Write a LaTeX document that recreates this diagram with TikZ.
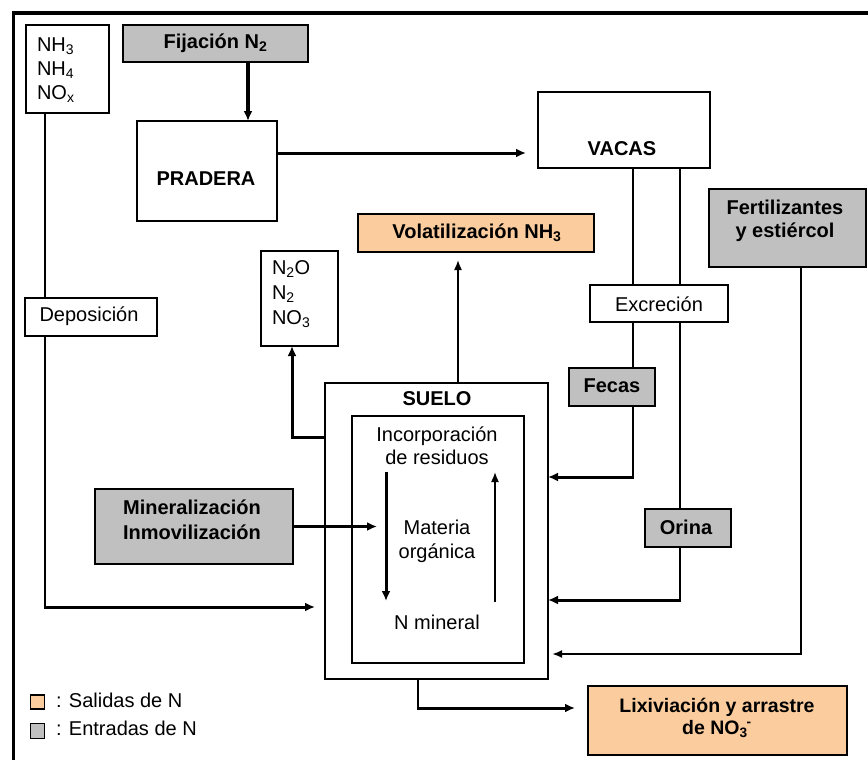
\documentclass[tikz,border=0pt]{standalone}
\usepackage{fontspec}
\setmainfont{Liberation Sans}
\usetikzlibrary{arrows.meta}
\definecolor{salida}{RGB}{251,204,158}
\definecolor{entrada}{RGB}{192,192,192}
\tikzset{
  box/.style={draw=black, line width=1.4pt, rectangle, inner sep=0pt, outer sep=0pt},
  inbox/.style={box, fill=entrada},
  outbox/.style={box, fill=salida},
  txt/.style={inner sep=0pt, outer sep=0pt, align=center, font=\fontsize{20}{24}\selectfont},
  btxt/.style={inner sep=0pt, outer sep=0pt, align=center, font=\fontsize{20}{25}\selectfont\bfseries},
  conn/.style={draw=black, line width=1.6pt},
  heavy/.style={draw=black, line width=3pt, -{Latex[length=10pt,width=9pt]}},
  fine/.style={draw=black, line width=1.6pt, -{Latex[length=10pt,width=8pt]}},
  medium/.style={draw=black, line width=2.2pt, -{Latex[length=10pt,width=8pt]}},
}
\begin{document}
\begin{tikzpicture}[x=1pt,y=-1pt]
\useasboundingbox (0,0) rectangle (868,760);
\fill[white] (0,0) rectangle (868,760);
% outer frame (left and top only)
\draw[line width=3.5pt] (13.5,762) -- (13.5,13) -- (870,13);

% boxes
\node[box, minimum width=83pt, minimum height=88pt] (nhb) at (67.5,69) {};
\node[inbox, minimum width=185pt, minimum height=37pt] (fij) at (215.5,43.5) {};
\node[box, minimum width=140pt, minimum height=100pt] (prad) at (207,171) {};
\node[box, minimum width=172pt, minimum height=76pt] (vac) at (624,130) {};
\node[outbox, minimum width=236pt, minimum height=38pt] (vol) at (476,233) {};
\node[box, minimum width=77pt, minimum height=95pt] (nox) at (299.5,298.5) {};
\node[box, minimum width=132pt, minimum height=38pt] (dep) at (91,317) {};
\node[box, minimum width=138pt, minimum height=37pt] (exc) at (659,303.5) {};
\node[inbox, minimum width=157pt, minimum height=78pt] (fer) at (787.5,228) {};
\node[inbox, minimum width=86pt, minimum height=38pt] (fec) at (612,387) {};
\node[box, minimum width=223pt, minimum height=296pt] (sue) at (436.5,531) {};
\node[box, minimum width=172pt, minimum height=247pt] (inn) at (438,539.5) {};
\node[inbox, minimum width=198pt, minimum height=75pt] (min) at (194,526.5) {};
\node[inbox, minimum width=86pt, minimum height=38pt] (ori) at (688,528) {};
\node[outbox, minimum width=259pt, minimum height=69pt] (lix) at (717.5,720.5) {};
\node[box, line width=1.2pt, fill=salida, minimum width=14pt, minimum height=14pt] (legs) at (37.5,702) {};
\node[box, line width=1.2pt, fill=entrada, minimum width=14pt, minimum height=15pt] (lege) at (37.5,731) {};

% texts
\node[txt, align=left, anchor=west] (tnh) at (37,70) {NH\textsubscript{3}\\NH\textsubscript{4}\\NO\textsubscript{x}};
\node[btxt] (tfij) at (215.5,43.5) {Fijación N\textsubscript{2}};
\node[btxt] (tprad) at (206,179) {PRADERA};
\node[btxt] (tvac) at (622,149) {VACAS};
\node[btxt] (tvol) at (477,233) {Volatilización NH\textsubscript{3}};
\node[txt, align=left, anchor=west, font=\fontsize{20}{25}\selectfont] (tnox) at (272,294) {N\textsubscript{2}O\\N\textsubscript{2}\\NO\textsubscript{3}};
\node[txt] (tdep) at (89,316) {Deposición};
\node[txt] (texc) at (659,304) {Excreción};
\node[btxt, font=\fontsize{20}{23}\selectfont\bfseries] (tfer) at (785,221) {Fertilizantes\\y estiércol};
\node[btxt] (tfec) at (612,386) {Fecas};
\node[btxt] (tsue) at (437,399) {SUELO};
\node[txt, font=\fontsize{20}{23}\selectfont] (tinc) at (437,445.5) {Incorporación\\de residuos};
\node[txt] (tmat) at (437,541) {Materia\\orgánica};
\node[txt] (tnmin) at (437,622) {N mineral};
\node[btxt] (tmin) at (192,519.5) {Mineralización\\Inmovilización};
\node[btxt] (tori) at (686,527) {Orina};
\node[btxt, font=\fontsize{19.5}{22}\selectfont\bfseries] (tlix) at (717,718) {Lixiviación y arrastre\\de NO\textsubscript{3}\kern-1pt\textsuperscript{-}};
\node[txt, anchor=west] (tls) at (56,700) {: Salidas de N};
\node[txt, anchor=west] (tle) at (56,728) {: Entradas de N};

% helper coordinates
\coordinate (fx) at (633,0);
\coordinate (ox) at (680,0);
\coordinate (depc) at (45,607);
\coordinate (fc) at (633,477);
\coordinate (oc) at (680,600);
\coordinate (rc) at (801,654);
\coordinate (lc) at (418,708);
\coordinate (mt) at (377,0);
\coordinate (la1) at (386,472);
\coordinate (la2) at (386,601);
\coordinate (ra1) at (495,602);
\coordinate (ra2) at (495,472);

% connectors
\draw[heavy, line width=3.4pt] ([xshift=32.5pt]fij.south) -- ([xshift=41pt]prad.north);
\draw[heavy, shorten >=12pt] ([yshift=18pt]prad.east) -- ([yshift=18pt]prad.east -| vac.west);
\draw[fine, shorten >=8pt] ([xshift=-18pt]vol.south |- sue.north) -- ([xshift=-18pt]vol.south);
\draw[heavy] ([yshift=94pt]sue.west) -| ([xshift=-7.5pt]nox.south);
\draw[conn] (nhb.south -| depc) -- (dep.north -| depc);
\draw[conn] (dep.south -| depc) -- ([yshift=1.5pt]depc);
\draw[heavy, shorten >=10pt] ([xshift=-1pt]depc) -- (depc -| sue.west);
\draw[heavy] (min.east) -- (min.east -| mt);
\draw[heavy] (la1) -- (la2);
\draw[fine] (ra1) -- (ra2);
\draw[conn] (vac.south -| fx) -- (exc.north -| fx);
\draw[conn] (vac.south -| ox) -- (exc.north -| ox);
\draw[conn] (exc.south -| fx) -- (fec.north -| fx);
\draw[conn] (fec.south -| fc) -- ([yshift=-1.5pt]fc);
\draw[heavy] ([xshift=0.8pt]fc) -- (fc -| sue.east);
\draw[conn] (exc.south -| ox) -- (ori.north -| ox);
\draw[conn] (ori.south -| oc) -- ([yshift=-1.5pt]oc);
\draw[heavy] ([xshift=0.8pt]oc) -- (oc -| sue.east);
\draw[conn] (fer.south -| rc) -- ([yshift=-1pt]rc);
\draw[medium, shorten >=4pt] ([xshift=0.8pt]rc) -- (rc -| sue.east);
\draw[conn] (sue.south -| lc) -- ([yshift=1.5pt]lc);
\draw[heavy, shorten >=13pt] ([xshift=-0.8pt]lc) -- (lc -| lix.west);
\end{tikzpicture}
\end{document}
